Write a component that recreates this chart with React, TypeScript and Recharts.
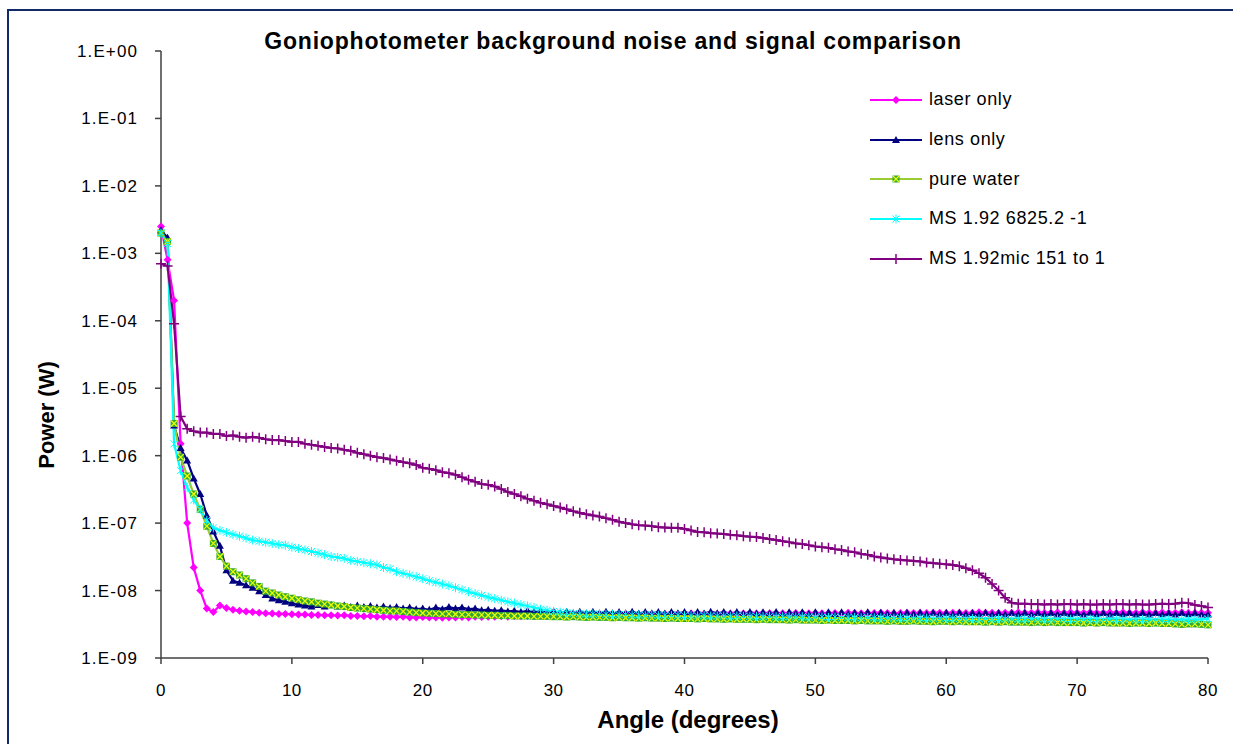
import { LineChart, Line, XAxis, YAxis } from 'recharts'

// ==================== || GONIOPHOTOMETER - NOISE / SIGNAL COMPARISON ||==================== //

const angles = [
    0, 0.5, 1, 1.5, 2, 2.5, 3, 3.5, 4, 4.5,
    5, 5.5, 6, 6.5, 7, 7.5, 8, 8.5, 9, 9.5,
    10, 10.5, 11, 11.5, 12, 12.5, 13, 13.5, 14, 14.5,
    15, 15.5, 16, 16.5, 17, 17.5, 18, 18.5, 19, 19.5,
    20, 20.5, 21, 21.5, 22, 22.5, 23, 23.5, 24, 24.5,
    25, 25.5, 26, 26.5, 27, 27.5, 28, 28.5, 29, 29.5,
    30, 30.5, 31, 31.5, 32, 32.5, 33, 33.5, 34, 34.5,
    35, 35.5, 36, 36.5, 37, 37.5, 38, 38.5, 39, 39.5,
    40, 40.5, 41, 41.5, 42, 42.5, 43, 43.5, 44, 44.5,
    45, 45.5, 46, 46.5, 47, 47.5, 48, 48.5, 49, 49.5,
    50, 50.5, 51, 51.5, 52, 52.5, 53, 53.5, 54, 54.5,
    55, 55.5, 56, 56.5, 57, 57.5, 58, 58.5, 59, 59.5,
    60, 60.5, 61, 61.5, 62, 62.5, 63, 63.5, 64, 64.5,
    65, 65.5, 66, 66.5, 67, 67.5, 68, 68.5, 69, 69.5,
    70, 70.5, 71, 71.5, 72, 72.5, 73, 73.5, 74, 74.5,
    75, 75.5, 76, 76.5, 77, 77.5, 78, 78.5, 79, 79.5,
    80,
]

const laserOnly = [
    2.5e-3, 8.0e-4, 2.0e-4, 1.5e-6, 1.0e-7, 2.2e-8, 1.0e-8, 5.4e-9, 4.8e-9, 6.0e-9,
    5.5e-9, 5.2e-9, 5.0e-9, 4.9e-9, 4.8e-9, 4.7e-9, 4.6e-9, 4.55e-9, 4.5e-9, 4.5e-9,
    4.45e-9, 4.4e-9, 4.4e-9, 4.35e-9, 4.35e-9, 4.3e-9, 4.3e-9, 4.25e-9, 4.3e-9, 4.2e-9,
    4.2e-9, 4.15e-9, 4.2e-9, 4.1e-9, 4.1e-9, 4.1e-9, 4.05e-9, 4.1e-9, 4.0e-9, 4.0e-9,
    4.05e-9, 4.0e-9, 4.0e-9, 3.95e-9, 4.0e-9, 4.0e-9, 4.05e-9, 4.0e-9, 4.1e-9, 4.05e-9,
    4.1e-9, 4.1e-9, 4.15e-9, 4.1e-9, 4.2e-9, 4.15e-9, 4.2e-9, 4.2e-9, 4.25e-9, 4.2e-9,
    4.3e-9, 4.25e-9, 4.3e-9, 4.3e-9, 4.35e-9, 4.3e-9, 4.4e-9, 4.35e-9, 4.4e-9, 4.4e-9,
    4.4e-9, 4.45e-9, 4.4e-9, 4.45e-9, 4.5e-9, 4.45e-9, 4.5e-9, 4.5e-9, 4.45e-9, 4.5e-9,
    4.5e-9, 4.55e-9, 4.5e-9, 4.5e-9, 4.55e-9, 4.5e-9, 4.6e-9, 4.55e-9, 4.5e-9, 4.55e-9,
    4.6e-9, 4.55e-9, 4.6e-9, 4.6e-9, 4.55e-9, 4.6e-9, 4.6e-9, 4.65e-9, 4.6e-9, 4.6e-9,
    4.65e-9, 4.6e-9, 4.6e-9, 4.65e-9, 4.6e-9, 4.7e-9, 4.65e-9, 4.6e-9, 4.65e-9, 4.65e-9,
    4.7e-9, 4.65e-9, 4.6e-9, 4.65e-9, 4.7e-9, 4.65e-9, 4.7e-9, 4.65e-9, 4.7e-9, 4.7e-9,
    4.65e-9, 4.7e-9, 4.7e-9, 4.65e-9, 4.7e-9, 4.75e-9, 4.7e-9, 4.7e-9, 4.65e-9, 4.7e-9,
    4.7e-9, 4.75e-9, 4.7e-9, 4.7e-9, 4.75e-9, 4.7e-9, 4.7e-9, 4.75e-9, 4.7e-9, 4.75e-9,
    4.7e-9, 4.7e-9, 4.75e-9, 4.7e-9, 4.7e-9, 4.75e-9, 4.7e-9, 4.75e-9, 4.7e-9, 4.7e-9,
    4.75e-9, 4.7e-9, 4.7e-9, 4.75e-9, 4.7e-9, 4.7e-9, 4.75e-9, 4.7e-9, 4.7e-9, 4.7e-9,
    4.7e-9,
]

const lensOnly = [
    2.2e-3, 1.7e-3, 2.8e-6, 1.3e-6, 8.5e-7, 4.6e-7, 2.7e-7, 1.3e-7, 7.5e-8, 4.6e-8,
    2.0e-8, 1.4e-8, 1.3e-8, 1.2e-8, 1.1e-8, 9.8e-9, 8.6e-9, 7.6e-9, 7.2e-9, 6.8e-9,
    6.5e-9, 6.2e-9, 6.0e-9, 5.8e-9, 6.1e-9, 5.8e-9, 6.1e-9, 5.8e-9, 6.0e-9, 5.7e-9,
    6.0e-9, 5.7e-9, 5.9e-9, 5.6e-9, 5.8e-9, 5.5e-9, 5.7e-9, 5.4e-9, 5.6e-9, 5.3e-9,
    5.4e-9, 5.2e-9, 5.6e-9, 5.3e-9, 5.7e-9, 5.4e-9, 5.6e-9, 5.3e-9, 5.4e-9, 5.1e-9,
    5.2e-9, 5.0e-9, 5.1e-9, 4.9e-9, 5.0e-9, 4.8e-9, 5.0e-9, 4.8e-9, 4.9e-9, 4.7e-9,
    4.9e-9, 4.6e-9, 4.85e-9, 4.6e-9, 4.85e-9, 4.6e-9, 4.85e-9, 4.6e-9, 4.85e-9, 4.6e-9,
    4.8e-9, 4.6e-9, 4.85e-9, 4.55e-9, 4.8e-9, 4.6e-9, 4.8e-9, 4.55e-9, 4.8e-9, 4.6e-9,
    4.8e-9, 4.55e-9, 4.8e-9, 4.55e-9, 4.85e-9, 4.6e-9, 4.8e-9, 4.55e-9, 4.8e-9, 4.55e-9,
    4.8e-9, 4.55e-9, 4.75e-9, 4.55e-9, 4.8e-9, 4.5e-9, 4.75e-9, 4.55e-9, 4.75e-9, 4.5e-9,
    4.75e-9, 4.5e-9, 4.75e-9, 4.5e-9, 4.75e-9, 4.5e-9, 4.7e-9, 4.5e-9, 4.75e-9, 4.5e-9,
    4.7e-9, 4.5e-9, 4.7e-9, 4.45e-9, 4.7e-9, 4.5e-9, 4.7e-9, 4.45e-9, 4.7e-9, 4.45e-9,
    4.7e-9, 4.45e-9, 4.7e-9, 4.45e-9, 4.65e-9, 4.45e-9, 4.7e-9, 4.45e-9, 4.65e-9, 4.4e-9,
    4.65e-9, 4.45e-9, 4.7e-9, 4.4e-9, 4.65e-9, 4.45e-9, 4.65e-9, 4.4e-9, 4.65e-9, 4.45e-9,
    4.65e-9, 4.4e-9, 4.7e-9, 4.45e-9, 4.65e-9, 4.4e-9, 4.65e-9, 4.45e-9, 4.65e-9, 4.4e-9,
    4.65e-9, 4.4e-9, 4.65e-9, 4.45e-9, 4.6e-9, 4.4e-9, 4.65e-9, 4.45e-9, 4.6e-9, 4.4e-9,
    4.4e-9,
]

const pureWater = [
    2.0e-3, 1.5e-3, 3.0e-6, 9.5e-7, 5.0e-7, 2.7e-7, 1.6e-7, 9.0e-8, 5.0e-8, 3.2e-8,
    2.3e-8, 1.9e-8, 1.7e-8, 1.5e-8, 1.3e-8, 1.15e-8, 9.8e-9, 9.2e-9, 8.6e-9, 8.1e-9,
    7.7e-9, 7.3e-9, 7.0e-9, 6.8e-9, 6.5e-9, 6.3e-9, 6.1e-9, 5.9e-9, 5.8e-9, 5.6e-9,
    5.5e-9, 5.4e-9, 5.3e-9, 5.2e-9, 5.1e-9, 5.0e-9, 5.0e-9, 4.9e-9, 4.8e-9, 4.7e-9,
    4.65e-9, 4.6e-9, 4.55e-9, 4.5e-9, 4.5e-9, 4.45e-9, 4.4e-9, 4.4e-9, 4.35e-9, 4.35e-9,
    4.3e-9, 4.3e-9, 4.25e-9, 4.25e-9, 4.2e-9, 4.2e-9, 4.2e-9, 4.15e-9, 4.15e-9, 4.15e-9,
    4.1e-9, 4.1e-9, 4.05e-9, 4.1e-9, 4.05e-9, 4.0e-9, 4.05e-9, 4.0e-9, 4.0e-9, 3.95e-9,
    4.0e-9, 3.95e-9, 3.95e-9, 3.9e-9, 3.95e-9, 3.9e-9, 3.9e-9, 3.85e-9, 3.9e-9, 3.85e-9,
    3.85e-9, 3.85e-9, 3.8e-9, 3.85e-9, 3.8e-9, 3.8e-9, 3.75e-9, 3.8e-9, 3.75e-9, 3.75e-9,
    3.75e-9, 3.7e-9, 3.75e-9, 3.7e-9, 3.7e-9, 3.7e-9, 3.65e-9, 3.7e-9, 3.65e-9, 3.65e-9,
    3.65e-9, 3.6e-9, 3.65e-9, 3.6e-9, 3.6e-9, 3.6e-9, 3.55e-9, 3.6e-9, 3.55e-9, 3.55e-9,
    3.55e-9, 3.5e-9, 3.55e-9, 3.5e-9, 3.5e-9, 3.55e-9, 3.5e-9, 3.5e-9, 3.45e-9, 3.5e-9,
    3.5e-9, 3.45e-9, 3.5e-9, 3.45e-9, 3.45e-9, 3.45e-9, 3.4e-9, 3.45e-9, 3.4e-9, 3.45e-9,
    3.4e-9, 3.4e-9, 3.4e-9, 3.35e-9, 3.4e-9, 3.35e-9, 3.4e-9, 3.35e-9, 3.35e-9, 3.35e-9,
    3.35e-9, 3.3e-9, 3.35e-9, 3.3e-9, 3.35e-9, 3.3e-9, 3.3e-9, 3.3e-9, 3.25e-9, 3.3e-9,
    3.3e-9, 3.25e-9, 3.3e-9, 3.25e-9, 3.25e-9, 3.2e-9, 3.15e-9, 3.2e-9, 3.2e-9, 3.15e-9,
    3.1e-9,
]

const ms6825 = [
    2.0e-3, 1.4e-3, 1.5e-6, 6.0e-7, 3.4e-7, 2.2e-7, 1.6e-7, 1.1e-7, 8.5e-8, 7.8e-8,
    7.3e-8, 6.8e-8, 6.4e-8, 6.0e-8, 5.6e-8, 5.4e-8, 5.2e-8, 5.0e-8, 4.8e-8, 4.7e-8,
    4.4e-8, 4.2e-8, 4.0e-8, 3.8e-8, 3.6e-8, 3.4e-8, 3.2e-8, 3.1e-8, 3.0e-8, 2.8e-8,
    2.7e-8, 2.6e-8, 2.5e-8, 2.4e-8, 2.2e-8, 2.1e-8, 1.9e-8, 1.8e-8, 1.7e-8, 1.6e-8,
    1.5e-8, 1.4e-8, 1.33e-8, 1.25e-8, 1.18e-8, 1.1e-8, 1.03e-8, 9.6e-9, 9.0e-9, 8.5e-9,
    8.0e-9, 7.6e-9, 7.2e-9, 6.8e-9, 6.5e-9, 6.2e-9, 5.9e-9, 5.6e-9, 5.3e-9, 5.1e-9,
    4.9e-9, 4.8e-9, 4.7e-9, 4.6e-9, 4.55e-9, 4.5e-9, 4.5e-9, 4.45e-9, 4.45e-9, 4.4e-9,
    4.4e-9, 4.4e-9, 4.35e-9, 4.35e-9, 4.3e-9, 4.35e-9, 4.3e-9, 4.3e-9, 4.25e-9, 4.3e-9,
    4.25e-9, 4.25e-9, 4.2e-9, 4.25e-9, 4.2e-9, 4.2e-9, 4.2e-9, 4.15e-9, 4.2e-9, 4.15e-9,
    4.15e-9, 4.15e-9, 4.1e-9, 4.15e-9, 4.1e-9, 4.1e-9, 4.1e-9, 4.05e-9, 4.1e-9, 4.05e-9,
    4.05e-9, 4.05e-9, 4.0e-9, 4.05e-9, 4.0e-9, 4.0e-9, 4.0e-9, 3.95e-9, 4.0e-9, 3.95e-9,
    3.95e-9, 3.95e-9, 3.9e-9, 3.95e-9, 3.9e-9, 3.9e-9, 3.9e-9, 3.9e-9, 3.85e-9, 3.9e-9,
    3.85e-9, 3.9e-9, 3.85e-9, 3.85e-9, 3.85e-9, 3.8e-9, 3.85e-9, 3.8e-9, 3.85e-9, 3.8e-9,
    3.8e-9, 3.8e-9, 3.8e-9, 3.85e-9, 3.8e-9, 3.8e-9, 3.75e-9, 3.8e-9, 3.8e-9, 3.75e-9,
    3.8e-9, 3.75e-9, 3.8e-9, 3.75e-9, 3.75e-9, 3.8e-9, 3.75e-9, 3.75e-9, 3.75e-9, 3.7e-9,
    3.75e-9, 3.75e-9, 3.7e-9, 3.75e-9, 3.75e-9, 3.7e-9, 3.75e-9, 3.7e-9, 3.75e-9, 3.75e-9,
    3.8e-9,
]

const ms151 = [
    7.0e-4, 6.5e-4, 9.0e-5, 3.8e-6, 2.5e-6, 2.3e-6, 2.2e-6, 2.2e-6, 2.1e-6, 2.1e-6,
    1.95e-6, 2.0e-6, 1.9e-6, 1.85e-6, 1.9e-6, 1.85e-6, 1.75e-6, 1.7e-6, 1.7e-6, 1.65e-6,
    1.6e-6, 1.6e-6, 1.5e-6, 1.45e-6, 1.4e-6, 1.35e-6, 1.3e-6, 1.28e-6, 1.22e-6, 1.18e-6,
    1.1e-6, 1.05e-6, 1.0e-6, 9.5e-7, 9.2e-7, 8.8e-7, 8.4e-7, 8.0e-7, 7.7e-7, 7.3e-7,
    6.6e-7, 6.4e-7, 6.1e-7, 5.7e-7, 5.5e-7, 5.2e-7, 4.8e-7, 4.4e-7, 4.1e-7, 3.8e-7,
    3.7e-7, 3.5e-7, 3.2e-7, 2.9e-7, 2.7e-7, 2.5e-7, 2.3e-7, 2.15e-7, 2.0e-7, 1.9e-7,
    1.8e-7, 1.7e-7, 1.6e-7, 1.5e-7, 1.42e-7, 1.35e-7, 1.3e-7, 1.25e-7, 1.18e-7, 1.12e-7,
    1.05e-7, 1.0e-7, 9.6e-8, 9.3e-8, 9.2e-8, 9.0e-8, 8.7e-8, 8.6e-8, 8.5e-8, 8.5e-8,
    8.2e-8, 7.8e-8, 7.4e-8, 7.3e-8, 7.1e-8, 7.0e-8, 6.9e-8, 6.7e-8, 6.6e-8, 6.4e-8,
    6.3e-8, 6.2e-8, 6.0e-8, 5.8e-8, 5.6e-8, 5.4e-8, 5.2e-8, 5.0e-8, 4.9e-8, 4.7e-8,
    4.5e-8, 4.4e-8, 4.3e-8, 4.1e-8, 4.0e-8, 3.8e-8, 3.7e-8, 3.5e-8, 3.4e-8, 3.2e-8,
    3.1e-8, 3.0e-8, 2.9e-8, 2.85e-8, 2.8e-8, 2.75e-8, 2.7e-8, 2.6e-8, 2.55e-8, 2.5e-8,
    2.45e-8, 2.4e-8, 2.3e-8, 2.15e-8, 2.0e-8, 1.8e-8, 1.55e-8, 1.25e-8, 1.0e-8, 7.8e-9,
    6.6e-9, 6.4e-9, 6.4e-9, 6.3e-9, 6.3e-9, 6.2e-9, 6.3e-9, 6.2e-9, 6.3e-9, 6.3e-9,
    6.2e-9, 6.3e-9, 6.2e-9, 6.2e-9, 6.3e-9, 6.2e-9, 6.3e-9, 6.3e-9, 6.2e-9, 6.3e-9,
    6.2e-9, 6.2e-9, 6.3e-9, 6.4e-9, 6.3e-9, 6.4e-9, 6.6e-9, 6.5e-9, 6.1e-9, 5.9e-9,
    5.6e-9,
]

const xTicks = [0, 10, 20, 30, 40, 50, 60, 70, 80]
const yTicks = [1e-9, 1e-8, 1e-7, 1e-6, 1e-5, 1e-4, 1e-3, 1e-2, 1e-1, 1]

const data = angles.map((angle, i) => ({
    angle,
    laser: laserOnly[i],
    lens: lensOnly[i],
    water: pureWater[i],
    ms6825: ms6825[i],
    ms151: ms151[i],
}))

const FONT = '"Liberation Sans", Arial, sans-serif'

// excel style markers
const Diamond = ({ cx, cy, color }) => (
    <polygon
        points={`${cx},${cy - 4} ${cx + 4},${cy} ${cx},${cy + 4} ${cx - 4},${cy}`}
        fill={color}
    />
)

const Triangle = ({ cx, cy, color }) => (
    <polygon
        points={`${cx},${cy - 4} ${cx + 4},${cy + 3} ${cx - 4},${cy + 3}`}
        fill={color}
    />
)

const SquareX = ({ cx, cy }) => (
    <g>
        <rect x={cx - 3.5} y={cy - 3.5} width={7} height={7} fill="#33A833" />
        <path
            d={`M${cx - 3},${cy - 3}L${cx + 3},${cy + 3}M${cx + 3},${cy - 3}L${cx - 3},${cy + 3}`}
            stroke="#EEFF00"
            strokeWidth={1.2}
        />
    </g>
)

const Star = ({ cx, cy, color }) => (
    <path
        d={`M${cx - 3.5},${cy - 3.5}L${cx + 3.5},${cy + 3.5}M${cx + 3.5},${cy - 3.5}L${cx - 3.5},${cy + 3.5}M${cx},${cy - 4.5}L${cx},${cy + 4.5}`}
        stroke={color}
        strokeWidth={1}
    />
)

const Plus = ({ cx, cy, color }) => (
    <path
        d={`M${cx - 5},${cy}L${cx + 5},${cy}M${cx},${cy - 5}L${cx},${cy + 5}`}
        stroke={color}
        strokeWidth={1.5}
    />
)

const SERIES = [
    { key: 'laser', name: 'laser only', color: '#FF00FF', Marker: Diamond },
    { key: 'lens', name: 'lens only', color: '#000080', Marker: Triangle },
    { key: 'water', name: 'pure water', color: '#99CC33', Marker: SquareX },
    { key: 'ms6825', name: 'MS 1.92 6825.2 -1', color: '#00FFFF', Marker: Star },
    { key: 'ms151', name: 'MS 1.92mic 151 to 1', color: '#800080', Marker: Plus },
]

const formatPower = (v: number) => {
    const e = Math.round(Math.log10(v))
    return `1.E${e < 0 ? '-' : '+'}${String(Math.abs(e)).padStart(2, '0')}`
}

const ChartLegend = () => (
    <div
        style={{
            position: 'absolute',
            left: 868,
            top: 80,
            fontSize: 18,
            letterSpacing: 0.6,
            color: '#000',
        }}
    >
        {SERIES.map(({ key, name, color, Marker }) => (
            <div
                key={key}
                style={{ display: 'flex', alignItems: 'center', height: 39.7 }}
            >
                <svg width={56} height={14}>
                    <line x1={2} y1={7} x2={54} y2={7} stroke={color} strokeWidth={2} />
                    <Marker cx={28} cy={7} color={color} />
                </svg>
                <span style={{ marginLeft: 5 }}>{name}</span>
            </div>
        ))}
    </div>
)

const App = () => {
    const axisStyle = { stroke: '#404040', strokeWidth: 1.5 }

    return (
        <div
            style={{
                position: 'absolute',
                left: 0,
                top: 0,
                width: 1233,
                height: 744,
                overflow: 'hidden',
                background: '#fff',
                fontFamily: FONT,
            }}
        >
            <div
                style={{
                    position: 'absolute',
                    left: 7,
                    top: 9,
                    width: 1260,
                    height: 780,
                    border: '2px solid #12296A',
                    boxSizing: 'border-box',
                }}
            />
            <LineChart
                width={1233}
                height={744}
                data={data}
                margin={{ top: 51, right: 25, bottom: 0, left: 0 }}
            >
                <XAxis
                    dataKey="angle"
                    type="number"
                    domain={[0, 80]}
                    ticks={xTicks}
                    height={86}
                    tickSize={6}
                    tickMargin={20}
                    axisLine={axisStyle}
                    tickLine={axisStyle}
                    tick={{ fill: '#000', fontSize: 17, fontFamily: FONT, letterSpacing: 0.5 }}
                />
                <YAxis
                    type="number"
                    scale="log"
                    domain={[1e-9, 1]}
                    ticks={yTicks}
                    allowDataOverflow
                    width={161}
                    tickSize={6}
                    tickMargin={17}
                    tickFormatter={formatPower}
                    axisLine={axisStyle}
                    tickLine={axisStyle}
                    tick={{ fill: '#000', fontSize: 17, fontFamily: FONT, letterSpacing: 1.1 }}
                />
                {SERIES.map(({ key, name, color, Marker }) => (
                    <Line
                        key={key}
                        dataKey={key}
                        name={name}
                        stroke={color}
                        strokeWidth={2.2}
                        isAnimationActive={false}
                        activeDot={false}
                        dot={(p) => (
                            <Marker key={`${key}-${p.index}`} cx={p.cx} cy={p.cy} color={color} />
                        )}
                    />
                ))}
            </LineChart>
            <ChartLegend />
            <div
                style={{
                    position: 'absolute',
                    left: 0,
                    width: 1226,
                    top: 28,
                    textAlign: 'center',
                    fontWeight: 'bold',
                    fontSize: 23,
                    letterSpacing: 0.8,
                }}
            >
                Goniophotometer background noise and signal comparison
            </div>
            <div
                style={{
                    position: 'absolute',
                    left: 488,
                    width: 400,
                    top: 706,
                    textAlign: 'center',
                    fontWeight: 'bold',
                    fontSize: 24,
                }}
            >
                Angle (degrees)
            </div>
            <div
                style={{
                    position: 'absolute',
                    left: -153,
                    width: 400,
                    top: 402,
                    textAlign: 'center',
                    fontWeight: 'bold',
                    fontSize: 22,
                    transform: 'rotate(-90deg)',
                }}
            >
                Power (W)
            </div>
        </div>
    )
}

export default App
